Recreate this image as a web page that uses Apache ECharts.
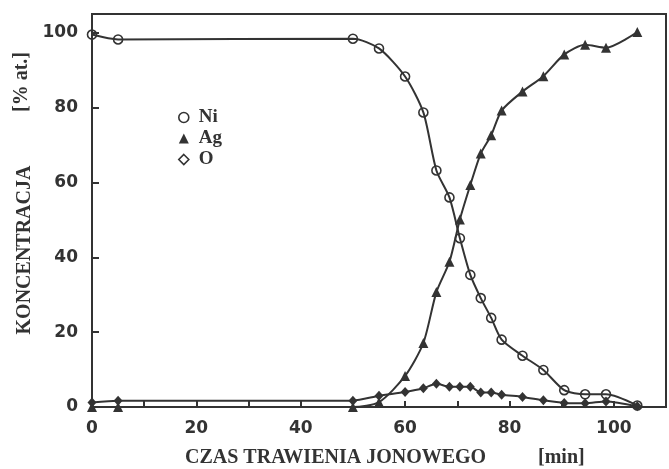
<!DOCTYPE html>
<html>
<head>
<meta charset="utf-8">
<script src="https://cdn.jsdelivr.net/npm/echarts@6/dist/echarts.min.js"></script>
<style>
  html, body { margin: 0; padding: 0; background: #ffffff; }
  #chart { width: 669px; height: 469px; }
</style>
</head>
<body>
<div id="chart"></div>
<script>
// Ion etching time, minutes (shared sampling for all elements)
const etchTime = [0, 5, 50, 55, 60, 63.5, 66, 68.5, 70.5, 72.5, 74.5, 76.5, 78.5, 82.5, 86.5, 90.5, 94.5, 98.5, 104.5];
// Concentrations, at. %
const niConc = [99.5, 98.2, 98.4, 95.8, 88.3, 78.7, 63.2, 56.0, 45.1, 35.3, 29.1, 23.8, 18.0, 13.7, 9.9, 4.5, 3.4, 3.4, 0.4];
const agConc = [0, 0, 0, 1.3, 8.3, 17.1, 30.7, 38.8, 50.1, 59.3, 67.7, 72.6, 79.2, 84.3, 88.4, 94.2, 96.8, 96.0, 100.2];
const oConc  = [1.2, 1.7, 1.7, 3.0, 4.0, 5.0, 6.2, 5.4, 5.4, 5.4, 3.9, 3.9, 3.3, 2.7, 1.8, 1.1, 1.0, 1.5, 0.2];
const elementNames = ['Ni', 'Ag', 'O'];
const xTitle = 'CZAS TRAWIENIA JONOWEGO';
const xUnit = '[min]';
const yTitle = 'KONCENTRACJA';
const yUnit = '[% at.]';

const ink = '#333333';
const titleFont = { fontFamily: 'Liberation Serif', fontWeight: 'bold', fontSize: 20, fill: ink };

function pairs(xs, ys) { return xs.map((x, i) => [x, ys[i]]); }

const chart = echarts.init(document.getElementById('chart'), null, { renderer: 'canvas' });

const lineBase = {
  type: 'line',
  smooth: 0.25,
  lineStyle: { color: ink, width: 2 },
  emphasis: { disabled: true },
  animation: false
};

chart.setOption({
  backgroundColor: '#ffffff',
  animation: false,
  grid: {
    left: 92, right: 2, top: 14, bottom: 62,
    show: true, borderColor: ink, borderWidth: 2, backgroundColor: 'transparent'
  },
  xAxis: {
    type: 'value', min: 0, max: 110, interval: 10,
    axisLine: { show: true, lineStyle: { color: ink, width: 2 } },
    axisTick: { show: true, inside: true, length: 6, lineStyle: { color: ink, width: 2 } },
    axisLabel: {
      margin: 13, color: ink, fontFamily: 'DejaVu Sans', fontWeight: 'bold', fontSize: 17,
      formatter: v => (v % 20 === 0 && v <= 100) ? String(v) : ''
    },
    splitLine: { show: false }
  },
  yAxis: {
    type: 'value', min: 0, max: 105, interval: 20,
    axisLine: { show: true, lineStyle: { color: ink, width: 2 } },
    axisTick: { show: true, inside: true, length: 7, lineStyle: { color: ink, width: 2 } },
    axisLabel: {
      margin: 14, color: ink, fontFamily: 'DejaVu Sans', fontWeight: 'bold', fontSize: 17,
      formatter: v => (v % 20 === 0 && v <= 100) ? String(v) : ''
    },
    splitLine: { show: false }
  },
  legend: {
    orient: 'vertical', left: 173, top: 103, itemGap: 2,
    itemWidth: 10, itemHeight: 10,
    selectedMode: false,
    textStyle: { color: ink, fontFamily: 'Liberation Serif', fontWeight: 'bold', fontSize: 19, lineHeight: 18, padding: [0, 0, 0, 5] },
    data: [
      { name: elementNames[0], icon: 'circle', itemStyle: { color: 'rgba(0,0,0,0)', borderColor: ink, borderWidth: 1.6 } },
      { name: elementNames[1], icon: 'triangle', itemStyle: { color: ink, borderWidth: 0 } },
      { name: elementNames[2], icon: 'diamond', itemStyle: { color: 'rgba(0,0,0,0)', borderColor: ink, borderWidth: 1.6 } }
    ]
  },
  series: [
    Object.assign({}, lineBase, {
      name: elementNames[0],
      data: pairs(etchTime, niConc),
      symbol: 'circle', symbolSize: 9,
      itemStyle: { color: 'rgba(0,0,0,0)', borderColor: ink, borderWidth: 1.6 }
    }),
    Object.assign({}, lineBase, {
      name: elementNames[1],
      data: pairs(etchTime, agConc),
      symbol: 'triangle', symbolSize: 10,
      itemStyle: { color: ink, borderWidth: 0 }
    }),
    Object.assign({}, lineBase, {
      name: elementNames[2],
      data: pairs(etchTime, oConc),
      symbol: 'diamond', symbolSize: [9, 10],
      itemStyle: { color: ink, borderWidth: 0 }
    })
  ],
  graphic: [
    { type: 'text', left: 185, top: 448, silent: true, style: Object.assign({ text: xTitle }, titleFont) },
    { type: 'text', left: 538, top: 448, silent: true, style: Object.assign({ text: xUnit }, titleFont) },
    { type: 'text', x: 25, y: 250, rotation: Math.PI / 2, silent: true,
      style: Object.assign({ text: yTitle, align: 'center', verticalAlign: 'middle' }, titleFont) },
    { type: 'text', x: 22, y: 82, rotation: Math.PI / 2, silent: true,
      style: Object.assign({ text: yUnit, align: 'center', verticalAlign: 'middle' }, titleFont) }
  ]
});
</script>
</body>
</html>
